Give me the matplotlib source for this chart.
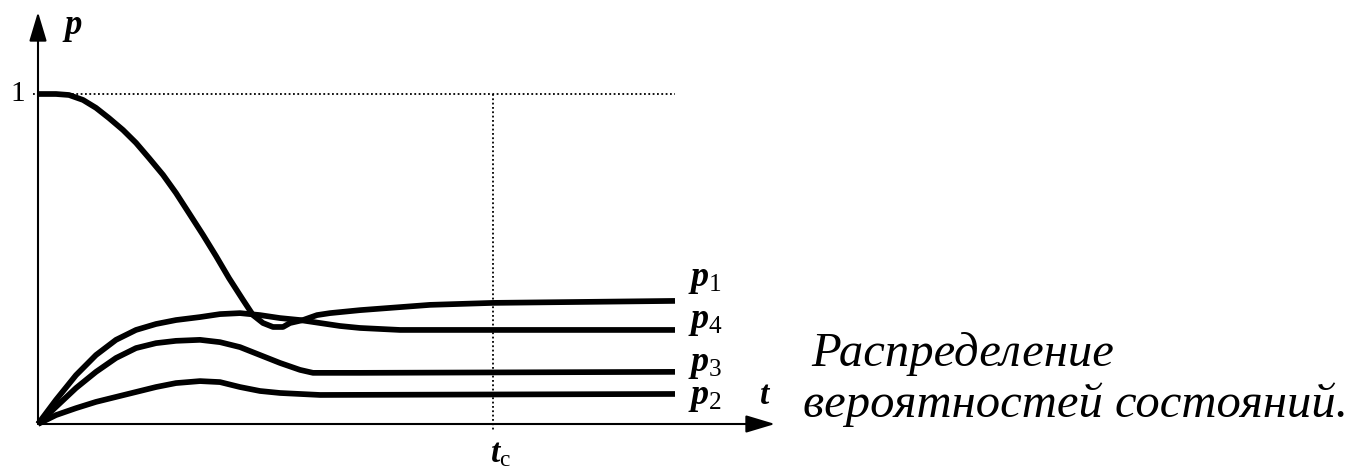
import matplotlib
matplotlib.use("Agg")
import matplotlib.pyplot as plt

# ---- data (t in arbitrary units, t_c = 4.55) ----
t_c = 4.55
t_end = 6.37

p1_t = [0.00, 0.18, 0.31, 0.45, 0.58, 0.71, 0.85, 0.98, 1.11, 1.25, 1.38, 1.51, 1.65, 1.78, 1.91,
        2.05, 2.15, 2.25, 2.35, 2.45, 2.52, 2.65, 2.79, 2.92, 3.22, 3.92, 4.55, 6.37]
p1_v = [1.000, 1.000, 0.997, 0.982, 0.958, 0.927, 0.891, 0.852, 0.806, 0.755, 0.700, 0.639, 0.573,
        0.509, 0.442, 0.376, 0.330, 0.306, 0.294, 0.294, 0.306, 0.315, 0.330, 0.336, 0.345, 0.361,
        0.367, 0.373]

p4_t = [0.0, 0.18, 0.38, 0.58, 0.78, 0.98, 1.18, 1.38, 1.62, 1.82, 2.02, 2.22, 2.42, 2.62, 2.82,
        3.02, 3.22, 3.62, 6.37]
p4_v = [0.0, 0.073, 0.148, 0.209, 0.255, 0.285, 0.303, 0.315, 0.324, 0.333, 0.336, 0.330, 0.321,
        0.315, 0.306, 0.297, 0.291, 0.285, 0.285]

p3_t = [0.0, 0.18, 0.38, 0.58, 0.78, 0.98, 1.18, 1.38, 1.62, 1.82, 2.02, 2.22, 2.42, 2.62, 2.75,
        3.22, 6.37]
p3_v = [0.0, 0.052, 0.109, 0.158, 0.200, 0.230, 0.245, 0.252, 0.255, 0.248, 0.233, 0.209, 0.185,
        0.164, 0.155, 0.155, 0.158]

p2_t = [0.0, 0.18, 0.38, 0.58, 0.78, 0.98, 1.18, 1.38, 1.62, 1.82, 2.02, 2.22, 2.42, 2.82, 6.37]
p2_v = [0.0, 0.027, 0.048, 0.067, 0.082, 0.097, 0.112, 0.124, 0.130, 0.127, 0.112, 0.100, 0.094,
        0.088, 0.091]

series_labels = ["$p_1$", "$p_4$", "$p_3$", "$p_2$"]
label_y = [0.44, 0.312, 0.182, 0.082]

caption_lines = ["Распределение", "вероятностей состояний."]

# ---- figure ----
plt.rcParams['mathtext.fontset'] = 'custom'
plt.rcParams['mathtext.it'] = 'Liberation Serif:italic:bold'
plt.rcParams['mathtext.rm'] = 'Liberation Serif'
plt.rcParams['mathtext.bf'] = 'Liberation Serif:bold'

W, H = 1354, 469
fig = plt.figure(figsize=(W / 100, H / 100), dpi=100)
x0, y0 = 38, 424
px_per_t = 100.0
px_per_p = 330.0
xmax = (775 - x0) / px_per_t
ymax = (y0 - 12) / px_per_p
ax = fig.add_axes([x0 / W, (H - y0) / H, (775 - x0) / W, (y0 - 12) / H])
ax.set_xlim(0, xmax)
ax.set_ylim(0, ymax)
ax.axis('off')

lw = 4.1
for tt, vv in [(p1_t, p1_v), (p4_t, p4_v), (p3_t, p3_v), (p2_t, p2_v)]:
    ax.plot(tt, vv, color='black', lw=lw, solid_capstyle='butt', solid_joinstyle='round', clip_on=False)

# dotted guides
ax.plot([-0.05, t_end], [1, 1], color='black', lw=1.3, ls=(0, (1, 1.4)), clip_on=False)
ax.plot([t_c, t_c], [1, -0.02], color='black', lw=1.3, ls=(0, (1, 1.4)), clip_on=False)

# axes arrows
arrow = dict(arrowstyle='-|>,head_length=1.0,head_width=0.3', mutation_scale=18,
             lw=1.5, color='black', shrinkA=0, shrinkB=0)
ax.annotate('', xy=(xmax, 0), xytext=(0, 0), arrowprops=arrow, annotation_clip=False)
ax.annotate('', xy=(0, ymax), xytext=(0, 0), arrowprops=arrow, annotation_clip=False)

# labels
ax.text(-0.13, 1.0, "1", ha='right', va='center', fontsize=21, family='Liberation Serif')
ax.text(0.24, ymax - 0.045, "$p$", ha='left', va='center', fontsize=25)
ax.text(7.27, 0.088, "$t$", ha='center', va='center', fontsize=24)
ax.text(4.62, -0.088, r"$t_\mathrm{c}$", ha='center', va='center', fontsize=24)

for lab, ly in zip(series_labels, label_y):
    ax.text(t_end + 0.13, ly, lab, ha='left', va='center', fontsize=26)

fig.text(811 / W, 1 - 366 / H, caption_lines[0], ha='left', va='baseline',
         fontsize=35, family='Liberation Serif', style='italic')
fig.text(803 / W, 1 - 417 / H, caption_lines[1], ha='left', va='baseline',
         fontsize=35, family='Liberation Serif', style='italic')

fig.savefig("out.png", dpi=100, facecolor='white')
